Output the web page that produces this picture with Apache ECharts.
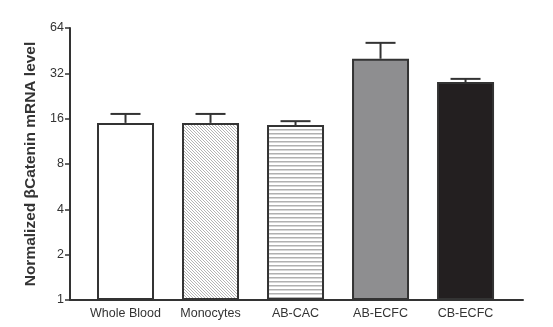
<!DOCTYPE html>
<html><head><meta charset="utf-8">
<script src="https://cdn.jsdelivr.net/npm/echarts@6/dist/echarts.min.js"></script>
<style>html,body{margin:0;padding:0;background:#fff;}#c{width:553px;height:327px;}</style>
</head><body><div id="c"></div>
<script>
const categories = ['Whole Blood', 'Monocytes', 'AB-CAC', 'AB-ECFC', 'CB-ECFC'];
const means = [15.0, 15.0, 14.5, 40.0, 28.0];
const upper = [17.2, 17.2, 15.4, 51.0, 29.4];
const yTicks = [1, 2, 4, 8, 16, 32, 64];

function pattern(kind) {
  const c = document.createElement('canvas');
  const s = kind === 'diag' ? 3 : 4;
  c.width = s; c.height = s;
  const g = c.getContext('2d');
  g.fillStyle = '#ffffff'; g.fillRect(0, 0, s, s);
  g.strokeStyle = '#b4b4b4'; g.lineWidth = 1;
  if (kind === 'diag') {
    g.beginPath();
    g.moveTo(0, 0); g.lineTo(s, s);
    g.moveTo(-s, 0); g.lineTo(0, s);
    g.moveTo(s, 0); g.lineTo(2 * s, s);
    g.stroke();
  } else {
    g.fillStyle = '#b0b0b0'; g.fillRect(0, 1, s, 1.5);
  }
  return { image: c, repeat: 'repeat' };
}
const fills = ['#ffffff', pattern('diag'), pattern('horiz'), '#8e8e90', '#231f20'];

const chart = echarts.init(document.getElementById('c'));
chart.setOption({
  animation: false,
  grid: { left: 70, right: 30, top: 28, bottom: 27 },
  xAxis: {
    type: 'value', min: -0.653, max: 4.676,
    splitLine: { show: false },
    axisLine: { show: true, onZero: false, lineStyle: { color: '#333', width: 2 } },
    axisTick: { show: false },
    axisLabel: {
      customValues: [0, 1, 2, 3, 4],
      formatter: v => categories[Math.round(v)] || '',
      color: '#333', fontSize: 12.5, fontFamily: 'Liberation Sans', margin: 7
    }
  },
  yAxis: {
    type: 'log', logBase: 2, min: 1, max: 64,
    name: 'Normalized \u03B2Catenin mRNA level', nameLocation: 'middle', nameGap: 25,
    nameTextStyle: { fontWeight: 'bold', fontSize: 15.5, color: '#333', fontFamily: 'Liberation Sans', padding: [0, 0, 0, 0] },
    splitLine: { show: false },
    axisLine: { show: true, onZero: false, lineStyle: { color: '#333', width: 2 } },
    axisTick: { show: true, length: 5, lineStyle: { color: '#333', width: 1.5 }, customValues: yTicks },
    axisLabel: { customValues: yTicks, color: '#333', fontSize: 12.5, fontFamily: 'Liberation Sans', margin: 6 }
  },
  series: [
    {
      type: 'bar', barWidth: 57,
      data: means.map((m, i) => ({ value: [i, m], itemStyle: { color: fills[i] } })),
      itemStyle: { borderColor: '#333', borderWidth: 2 }
    },
    {
      type: 'custom',
      data: means.map((m, i) => [i, m, upper[i]]),
      renderItem: function (params, api) {
        const top = api.coord([api.value(0), api.value(1)]);
        const hi = api.coord([api.value(0), api.value(2)]);
        const hw = 15;
        return {
          type: 'group',
          children: [
            { type: 'line', shape: { x1: top[0], y1: top[1], x2: hi[0], y2: hi[1] }, style: { stroke: '#333', lineWidth: 2 } },
            { type: 'line', shape: { x1: hi[0] - hw, y1: hi[1], x2: hi[0] + hw, y2: hi[1] }, style: { stroke: '#333', lineWidth: 2 } }
          ]
        };
      },
      z: 1
    }
  ]
});
</script></body></html>
